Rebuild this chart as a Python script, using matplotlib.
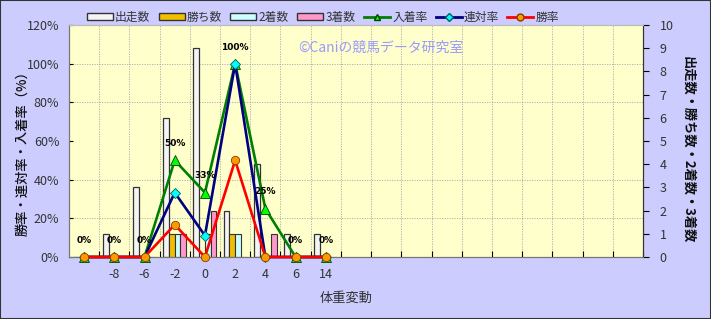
import matplotlib.pyplot as plt
import numpy as np
from matplotlib.patches import Patch, Rectangle
from matplotlib.lines import Line2D

plt.rcParams['font.family'] = ['Noto Sans CJK JP', 'DejaVu Sans']

# data
categories = ["", "-8", "-6", "-2", "0", "2", "4", "6", "14"]
n_slots = 19
starts = [0, 1, 3, 6, 9, 2, 4, 1, 1]
wins = [0, 0, 0, 1, 0, 1, 0, 0, 0]
seconds = [0, 0, 0, 1, 1, 1, 0, 0, 0]
thirds = [0, 0, 0, 1, 2, 0, 1, 0, 0]
win_rate = [0, 0, 0, 16.7, 0, 50, 0, 0, 0]
rentai_rate = [0, 0, 0, 33.3, 11.1, 100, 0, 0, 0]
place_rate = [0, 0, 0, 50, 33.3, 100, 25, 0, 0]
place_labels = ["0%", "0%", "0%", "50%", "33%", "100%", "25%", "0%", "0%"]

# styling
bg_color = "#ccccff"
plot_color = "#ffffcc"
c_start = "#f4f4f4"
c_win = "#f0c000"
c_second = "#ccffff"
c_third = "#ff99cc"
edge = "#333333"

fig = plt.figure(figsize=(7.11, 3.19), dpi=100)
fig.patch.set_facecolor(bg_color)
fig.patches.append(Rectangle((0, 0), 1, 1, transform=fig.transFigure,
                             fill=False, edgecolor="#333333", linewidth=1.5))

ax = fig.add_axes([69 / 711, 1 - 257 / 319, 574 / 711, 232 / 319])
ax.set_facecolor(plot_color)
axp = ax.twinx()

# bars (counts axis, shown on the right)
x = np.arange(len(categories))
w = 0.19
ax.bar(x - 1.5 * w, starts, w, color=c_start, edgecolor=edge, linewidth=0.9)
ax.bar(x - 0.5 * w, wins, w, color=c_win, edgecolor=edge, linewidth=0.8)
ax.bar(x + 0.5 * w, seconds, w, color=c_second, edgecolor=edge, linewidth=0.8)
ax.bar(x + 1.5 * w, thirds, w, color=c_third, edgecolor=edge, linewidth=0.8)

ax.set_xlim(-0.5, n_slots - 0.5)
ax.set_ylim(0, 10)
ax.yaxis.tick_right()
ax.yaxis.set_label_position("right")
ax.set_yticks(range(0, 11))
ax.set_yticks(np.linspace(0, 10, 7), minor=True)
ax.tick_params(axis="y", which="minor", length=0)
ax.tick_params(axis="y", which="major", labelsize=9, labelcolor="#333333",
               length=4, direction="out", pad=8)
ax.set_xticks(np.arange(n_slots) + 0.5)
ax.set_xticklabels([])
ax.set_xticks(x, minor=True)
ax.set_xticklabels(categories, minor=True)
ax.tick_params(axis="x", which="minor", length=0, labelsize=9,
               labelcolor="#333333", pad=8)
ax.tick_params(axis="x", which="major", length=4, direction="in")
ax.grid(axis="x", which="major", linestyle=(0, (1.5, 1.5)), color="#aaaaaa", linewidth=0.6)
ax.grid(axis="y", which="minor", linestyle=(0, (1.5, 1.5)), color="#aaaaaa", linewidth=0.6)
ax.set_axisbelow(True)

# lines (percent axis, shown on the left)
axp.yaxis.tick_left()
axp.yaxis.set_label_position("left")
axp.set_ylim(0, 120)
axp.set_yticks(range(0, 121, 20))
axp.set_yticklabels([f"{v}%" for v in range(0, 121, 20)])
axp.tick_params(axis="y", labelsize=9, labelcolor="#333333", length=3,
                direction="in", pad=7)

axp.plot(x, place_rate, color="#008000", linewidth=1.9, marker="^",
         markersize=6.5, markerfacecolor="#00ff00", markeredgecolor="#004000",
         markeredgewidth=0.6, clip_on=False, zorder=3)
axp.plot(x, rentai_rate, color="#000080", linewidth=1.9, marker="D",
         markersize=5, markerfacecolor="#00ffff", markeredgecolor="#006060",
         markeredgewidth=0.6, clip_on=False, zorder=4)
axp.plot(x, win_rate, color="#ff0000", linewidth=1.9, marker="o",
         markersize=6, markerfacecolor="#ff9900", markeredgecolor="#804000",
         markeredgewidth=0.6, clip_on=False, zorder=5)

for xi, yi, lab in zip(x, place_rate, place_labels):
    axp.annotate(lab, (xi, yi), xytext=(0, 12), textcoords="offset points",
                 ha="center", va="center", fontsize=6.5, fontweight="bold",
                 family="DejaVu Sans", color="black", zorder=6)

for a in (ax, axp):
    a.spines["top"].set_color("#bbbbbb")
    a.spines["left"].set_color("#777777")
    a.spines["bottom"].set_color("#777777")
    a.spines["right"].set_color("#333333")

# axis titles
fig.text(22 / 711, 1 - 150 / 319, "勝率・連対率・入着率（%）", rotation=90,
         ha="center", va="center", fontsize=9.5, fontweight="medium", color="#111111")
fig.text(688 / 711, 1 - 150 / 319, "出走数・勝ち数・2着数・3着数", rotation=-90,
         ha="center", va="center", fontsize=9.5, fontweight="bold", color="#111111")
fig.text(346 / 711, 1 - 298 / 319, "体重変動", ha="center", va="center",
         fontsize=9.5, color="#333333")

# watermark
fig.text(298 / 711, 1 - 48 / 319, "©Caniの競馬データ研究室", ha="left", va="center",
         fontsize=10, color="#9999ff")

# legend
handles = [
    Patch(facecolor=c_start, edgecolor=edge, label="出走数"),
    Patch(facecolor=c_win, edgecolor=edge, label="勝ち数"),
    Patch(facecolor=c_second, edgecolor=edge, label="2着数"),
    Patch(facecolor=c_third, edgecolor=edge, label="3着数"),
    Line2D([], [], color="#008000", linewidth=2, marker="^", markersize=5,
           markerfacecolor="#00ff00", markeredgecolor="#004000", label="入着率"),
    Line2D([], [], color="#000080", linewidth=2, marker="D", markersize=4,
           markerfacecolor="#00ffff", markeredgecolor="#006060", label="連対率"),
    Line2D([], [], color="#ff0000", linewidth=2, marker="o", markersize=5,
           markerfacecolor="#ff9900", markeredgecolor="#804000", label="勝率"),
]
fig.legend(handles=handles, loc="center", bbox_to_anchor=(323 / 711, 1 - 17 / 319),
           ncol=7, frameon=False, fontsize=8.5, handlelength=2.2, handleheight=0.5,
           handletextpad=0.2, columnspacing=0.7, labelcolor="#333333")

plt.savefig("out.png", dpi=100, facecolor=fig.get_facecolor())
